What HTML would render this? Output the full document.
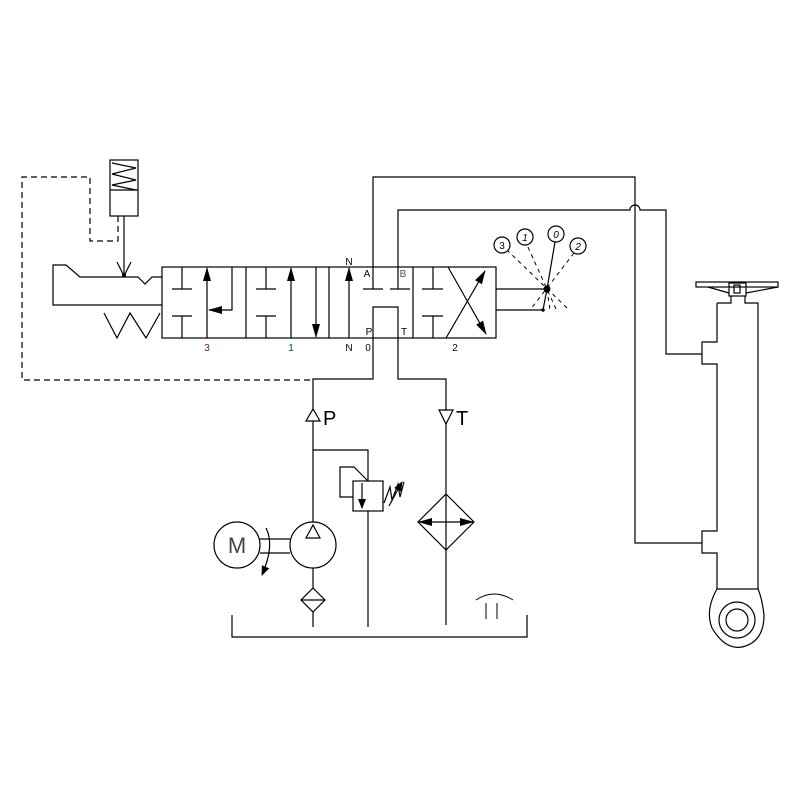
<!DOCTYPE html>
<html><head><style>html,body{margin:0;padding:0;background:#fff}svg{display:block}</style></head><body>
<svg width="800" height="800" viewBox="0 0 800 800" xmlns="http://www.w3.org/2000/svg" font-family="Liberation Sans, sans-serif">
<defs>
<marker id="ah" markerWidth="10" markerHeight="8" refX="9" refY="4" orient="auto" markerUnits="userSpaceOnUse">
<path d="M0,0 L10,4 L0,8 Z" fill="#000"/></marker>
<marker id="ahl" markerWidth="14" markerHeight="8" refX="13" refY="4" orient="auto" markerUnits="userSpaceOnUse">
<path d="M0,0 L14,4 L0,8 Z" fill="#000"/></marker>
</defs>
<g stroke="#000" stroke-width="1.2" fill="none">
<path d="M118,216 V241 H90 V177 H22 V380 H313" stroke-dasharray="6,4"/>
<rect x="110" y="160" width="28" height="56"/>
<line x1="110" y1="190" x2="138" y2="190"/>
<path d="M112,163 L136,168 L112,174 L136,180 L112,185 L136,190"/>
<line x1="124" y1="216" x2="124" y2="276"/>
<path d="M117,262 L124,276 L131,262"/>
<path d="M162,277 H152 L145,284 L138,277 H80 L66,265 H53 V305 H162"/>
<path d="M104,313 L117,338 L130,313 L146,338 L160,313"/>
<rect x="162" y="267" width="334" height="71"/>
<line x1="246" y1="267" x2="246" y2="338"/>
<line x1="329" y1="267" x2="329" y2="338"/>
<line x1="413" y1="267" x2="413" y2="338"/>
<path d="M182,267 V289 M172,289 H192 M172,316 H192 M182,316 V338"/>
<line x1="207" y1="338" x2="207" y2="268" marker-end="url(#ahl)"/>
<path d="M232,267 V310 H209" marker-end="url(#ahl)"/>
<path d="M266,267 V289 M256,289 H276 M256,316 H276 M266,316 V338"/>
<line x1="291" y1="338" x2="291" y2="268" marker-end="url(#ahl)"/>
<line x1="316" y1="267" x2="316" y2="337" marker-end="url(#ahl)"/>
<line x1="349" y1="338" x2="349" y2="268" marker-end="url(#ahl)"/>
<path d="M373,267 V289 M363,289 H383 M390,289 H410 M398,267 V289"/>
<path d="M373,338 V307 H398 V338"/>
<path d="M433,267 V289 M422,289 H443 M422,316 H443 M433,316 V338"/>
<line x1="446" y1="338" x2="485" y2="271" marker-end="url(#ahl)"/>
<line x1="448" y1="267" x2="486" y2="334" marker-end="url(#ahl)"/>
<path d="M496,289 H547 M496,310 H543 L547,289"/>
<line x1="547" y1="289" x2="555" y2="242"/>
<g stroke-dasharray="4,4" stroke-width="1">
<line x1="567" y1="308" x2="508" y2="251"/>
<line x1="556" y1="309" x2="527" y2="245"/>
<line x1="574" y1="253" x2="530" y2="310"/>
<line x1="547" y1="289" x2="550" y2="310"/>
</g>
<circle cx="502" cy="245" r="8"/>
<circle cx="525" cy="237" r="8"/>
<circle cx="556" cy="234" r="8"/>
<circle cx="578" cy="246" r="8"/>
<path d="M373,267 V177 H635 V543 H702"/>
<path d="M398,267 V210 H630 A5,5 0 0 1 640,210 H666 V354 H702"/>
<path d="M373,338 V379 H313 V627"/>
<path d="M398,338 V379 H446 V625"/>
<path d="M717,303 H731 V296 M745,296 V303 H758 V589 H717 V553 H702 V531 H717 V364 H702 V342 H717 V303"/>
<rect x="729" y="283" width="17" height="13"/>
<rect x="734" y="285" width="6" height="8"/>
<rect x="696" y="282" width="82" height="5"/>
<path d="M708,287 L729,293 M778,287 L746,293"/>
<path d="M717,589 Q705,610 712,628 Q725,650 742,647 Q764,642 764,615 Q762,598 758,589"/>
<circle cx="737" cy="620" r="18"/>
<circle cx="737" cy="620" r="11"/>
<path d="M306,421 L313,409 L320,421 Z" fill="#fff"/>
<path d="M313,450 H368 V481 M368,511 V627"/>
<rect x="353" y="481" width="30" height="30"/>
<line x1="362" y1="483" x2="362" y2="508" marker-end="url(#ah)"/>
<path d="M368,481 L354,467 H340 V497 H353"/>
<path d="M384,503 L390,487 L392,500 L398,484 L400,497 L404,482"/>
<line x1="389" y1="506" x2="402" y2="482" marker-end="url(#ah)"/>
<circle cx="313" cy="545" r="23" fill="#fff"/>
<path d="M306,538 L313,525 L320,538 Z"/>
<circle cx="237" cy="545" r="23"/>
<path d="M260,539 H290 M260,553 H290"/>
<path d="M266,528 Q275,545 262,575" marker-end="url(#ah)"/>
<path d="M313,588 L325,600 L313,612 L301,600 Z" fill="#fff"/>
<line x1="301" y1="600" x2="325" y2="600"/>
<path d="M232,615 V637 H527 V615"/>
<path d="M476,600 Q494,588 513,600 M486,603 V619 M497,603 V619" stroke-width="1"/>
<path d="M439,410 L453,410 L446,424 Z" fill="#fff"/>
<path d="M446,494 L474,522 L446,550 L418,522 Z" fill="#fff"/>
<line x1="446" y1="494" x2="446" y2="550"/>
<line x1="446" y1="522" x2="419" y2="522" marker-end="url(#ahl)"/>
<line x1="446" y1="522" x2="473" y2="522" marker-end="url(#ahl)"/>
</g>
<circle cx="547" cy="289" r="3.5" fill="#000"/>
<circle cx="543" cy="310" r="1.8" fill="#000"/>
<circle cx="124" cy="275" r="2" fill="#000"/>
<g font-size="10" text-anchor="middle">
<text x="349" y="265">N</text>
<text x="367" y="277">A</text>
<text x="403" y="277" fill="#553">B</text>
<text x="369" y="335">P</text>
<text x="404" y="335">T</text>
<text x="349" y="351">N</text>
<text x="368" y="351">0</text>
<text x="455" y="351">2</text>
<text x="207" y="351" fill="#820">3</text>
<text x="291" y="351" fill="#060">1</text>
<text x="502" y="249">3</text>
<text x="525" y="241" font-style="italic">1</text>
<text x="556" y="238" font-style="italic">0</text>
<text x="578" y="250" font-style="italic">2</text>
<text x="237" y="553" font-size="22" fill="#444">M</text>
</g>
<text x="323" y="425" font-size="20">P</text>
<text x="456" y="425" font-size="20">T</text>
</svg>
</body></html>
